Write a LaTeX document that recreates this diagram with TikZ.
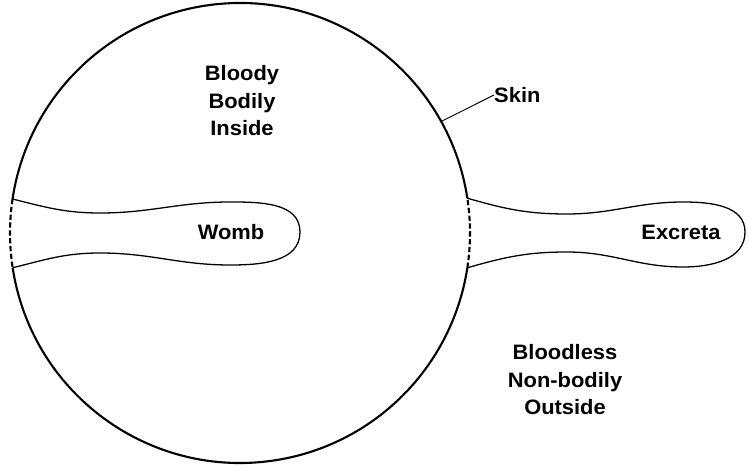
\documentclass[tikz,border=0pt]{standalone}
\usepackage{fontspec}
\setmainfont{Liberation Sans}[FakeStretch=1.05]
\usepackage{tikz}
\usetikzlibrary{positioning}

\begin{document}
\begin{tikzpicture}[x=0.3mm, y=0.3mm,
        skinline/.style={line width=1.8pt},
        pouch/.style={line width=1.1pt},
        opening/.style={line width=1.8pt, dash pattern=on 4.5pt off 2.2pt},
        tag/.style={font=\bfseries\fontsize{17.8}{23.5}\selectfont, align=center, inner sep=0pt}]

        \useasboundingbox (0,0) rectangle (748,467);

        % Centre of the body and the points where the pouches meet the skin
        \coordinate (c) at (240,234);
        \coordinate (wt) at ([shift={(171.5:230)}]c);
        \coordinate (wb) at ([shift={(188.7:230)}]c);
        \coordinate (et) at ([shift={(8.7:230)}]c);
        \coordinate (eb) at ([shift={(-8.7:230)}]c);
        \coordinate (sk) at ([shift={(29:230)}]c);

        % Skin (solid) and its two openings (dashed)
        \draw[skinline] (et) arc (8.7:171.5:230);
        \draw[skinline] (wb) arc (188.7:351.3:230);
        \draw[opening] (wt) arc (171.5:188.7:230);
        \draw[opening] (eb) arc (-8.7:8.7:230);

        % Womb, folded inwards
        \draw[pouch] (wt) to[out=-14, in=180] (100,254) to[out=0, in=180] (230,265)
            to[out=0, in=90] (300,235) to[out=-90, in=0] (230,202)
            to[out=180, in=0] (100,214) to[out=180, in=14] (wb);

        % Excreta, pushed outwards
        \draw[pouch] (et) to[out=-16, in=180] (567,253) to[out=0, in=180] (683,265)
            to[out=0, in=90] (745,235) to[out=-90, in=0] (683,200)
            to[out=180, in=0] (567,215) to[out=180, in=16] (eb);

        % Labels
        \node[tag] (inside) at (242,366) {Bloody\\Bodily\\Inside};
        \node[tag] (outside) at (565,87) {Bloodless\\Non-bodily\\Outside};
        \node[tag] (womb) at (231,235) {Womb};
        \node[tag] (excreta) at (681,235) {Excreta};
        \node[tag, anchor=west] (skin) at (494,372) {Skin};

        \draw[line width=0.8pt] (sk) -- (skin.west);

    \end{tikzpicture}
\end{document}
